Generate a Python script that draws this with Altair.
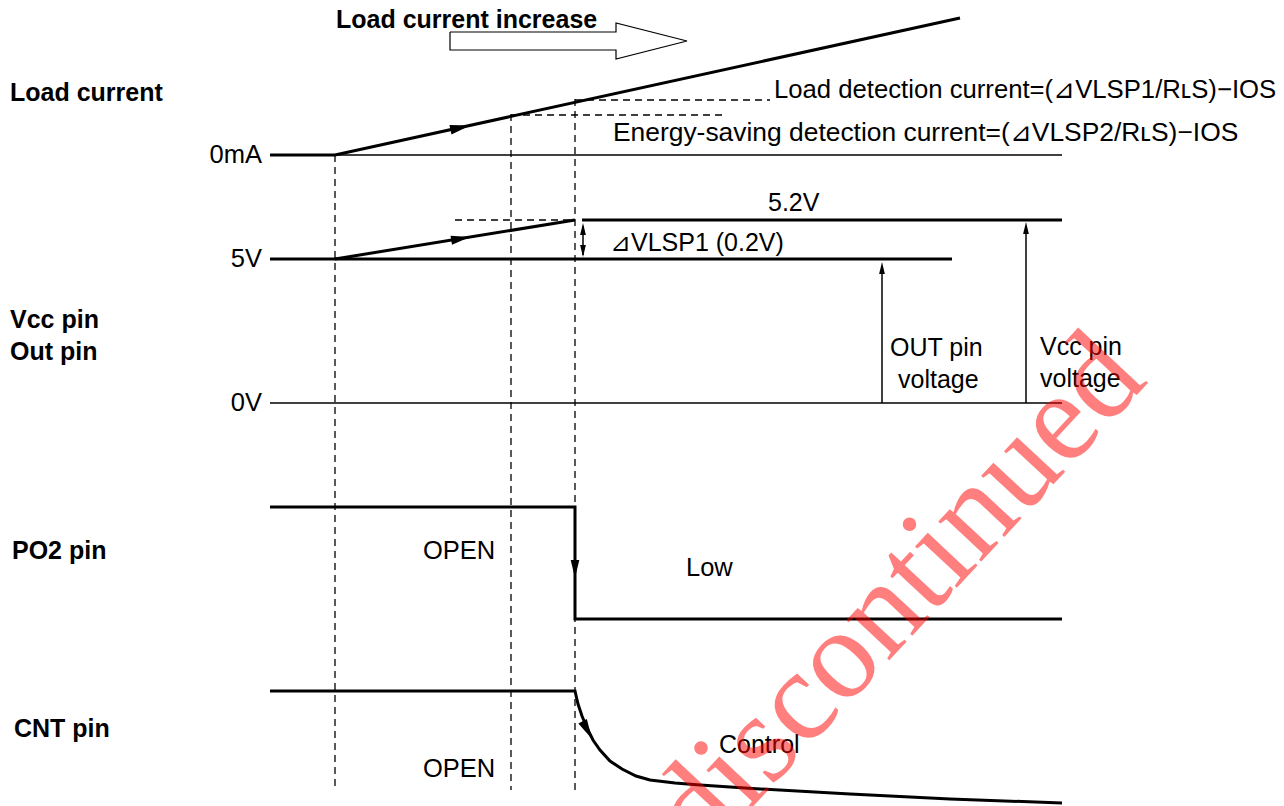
import altair as alt
import pandas as pd

# ---- diagram coordinate system (time axis -> x, signal level -> y) ----
X_DOMAIN = [8, 1276]
Y_DOMAIN = [8, 806]

# Thick waveform polylines: name -> (x list, y list)
wave_names = ["load", "vcc5", "vccramp", "vcc52", "po2", "cnt"]
wave_x = [
    [270, 335, 960],
    [270, 952],
    [335, 575],
    [582, 1062],
    [270, 575, 575, 1062],
    [270, 575, 578, 582, 587, 593, 600, 610, 622, 636, 650, 675, 700, 760, 850, 950, 1062],
]
wave_y = [
    [155, 155, 18],
    [259, 259],
    [259, 220],
    [220, 220],
    [507, 507, 619, 619],
    [691, 691, 704, 716, 728, 740, 750, 761, 769, 776, 780, 783, 785, 789, 794, 799, 803],
]

# Thin reference lines / arrow shafts
thin_names = ["zero_mA", "zero_V", "out_shaft", "vcc_shaft", "dvlsp_shaft"]
thin_x = [[270, 1062], [270, 1062], [882, 882], [1026, 1026], [583, 583]]
thin_y = [[155, 155], [403, 403], [403, 266], [403, 226], [226, 255]]

# Dashed guide lines
dash_names = ["t_ramp", "t_save", "t_det", "i_det", "i_save", "v52_guide"]
dash_x = [[335, 335], [511, 511], [575, 575], [575, 770], [511, 727], [455, 575]]
dash_y = [[155, 790], [114, 790], [99, 790], [100, 100], [115, 115], [220, 220]]

# Block arrow "Load current increase"
block_x = [450, 616, 616, 687, 616, 616, 450, 450]
block_y = [32, 32, 23, 41, 59, 50, 50, 32]

# Arrow heads: tip position, direction (deg clockwise), size
head_x = [470, 470, 575, 592, 583, 583, 882, 1026]
head_y = [125.4, 237.1, 578, 739, 223, 257, 262, 222]
head_angle = [347.6, 350.8, 90, 62, 270, 90, 270, 270]
head_size = [400, 360, 324, 400, 144, 144, 144, 144]

# Text labels
bold_text = ["Load current increase", "Load current", "Vcc pin", "Out pin", "PO2 pin", "CNT pin"]
bold_x = [336, 10, 10, 10, 12, 14]
bold_y = [20, 93, 320, 352, 551, 729]

reg_text = [
    "Load detection current=(⊿VLSP1/RʟS)−IOS",
    "Energy-saving detection current=(⊿VLSP2/RʟS)−IOS",
    "5.2V", "⊿VLSP1 (0.2V)", "OUT pin", "voltage", "Vcc pin", "voltage",
    "OPEN", "Low", "Control", "OPEN",
]
reg_x = [774, 613, 768, 610, 890, 898, 1040, 1040, 423, 686, 719, 423]
reg_y = [90, 133, 203, 243, 348, 380, 347, 379, 551, 568, 745, 769]
reg_size = [25.7, 26.4, 25, 25, 25, 25, 25, 25, 25.5, 25.5, 25, 25.5]

right_text = ["0mA", "5V", "0V"]
right_x = [262, 262, 262]
right_y = [155, 259, 403]

watermark_text = ["discontinued"]
watermark_x = [926]
watermark_y = [621]


def polylines(names, xs, ys):
    rows = []
    for n, xl, yl in zip(names, xs, ys):
        for i, (a, b) in enumerate(zip(xl, yl)):
            rows.append({"seg": n, "ord": i, "x": a, "y": b})
    return pd.DataFrame(rows)


xs = alt.Scale(domain=X_DOMAIN, nice=False, zero=False)
ys = alt.Scale(domain=Y_DOMAIN, nice=False, zero=False, reverse=True)
X = alt.X("x:Q", scale=xs, axis=None)
Y = alt.Y("y:Q", scale=ys, axis=None)

waves = alt.Chart(polylines(wave_names, wave_x, wave_y)).mark_line(
    color="black", strokeWidth=3, strokeJoin="miter", strokeCap="butt"
).encode(x=X, y=Y, detail="seg:N", order="ord:Q")

thin = alt.Chart(polylines(thin_names, thin_x, thin_y)).mark_line(
    color="black", strokeWidth=1.5
).encode(x=X, y=Y, detail="seg:N", order="ord:Q")

dashed = alt.Chart(polylines(dash_names, dash_x, dash_y)).mark_line(
    color="black", strokeWidth=1.3, strokeDash=[7, 5]
).encode(x=X, y=Y, detail="seg:N", order="ord:Q")

block = alt.Chart(polylines(["block"], [block_x], [block_y])).mark_line(
    color="black", strokeWidth=1.2, strokeJoin="miter"
).encode(x=X, y=Y, detail="seg:N", order="ord:Q")

heads_df = pd.DataFrame({"x": head_x, "y": head_y, "ang": head_angle, "sz": head_size})
heads = alt.Chart(heads_df).mark_point(
    shape="M0,0L-2,-0.48L-2,0.48Z", filled=True, color="black", opacity=1, strokeWidth=0
).encode(
    x=X, y=Y,
    angle=alt.Angle("ang:Q", scale=None),
    size=alt.Size("sz:Q", scale=None),
)

FONT = "Liberation Sans"
bold = alt.Chart(pd.DataFrame({"x": bold_x, "y": bold_y, "t": bold_text})).mark_text(
    font=FONT, fontSize=25, fontWeight="bold", align="left", baseline="middle", color="black"
).encode(x=X, y=Y, text="t:N")

reg = alt.Chart(pd.DataFrame({"x": reg_x, "y": reg_y, "t": reg_text, "fs": reg_size})).mark_text(
    font=FONT, align="left", baseline="middle", color="black"
).encode(x=X, y=Y, text="t:N", size=alt.Size("fs:Q", scale=None))

right = alt.Chart(pd.DataFrame({"x": right_x, "y": right_y, "t": right_text})).mark_text(
    font=FONT, fontSize=25.5, align="right", baseline="middle", color="black"
).encode(x=X, y=Y, text="t:N")

wm = alt.Chart(pd.DataFrame({"x": watermark_x, "y": watermark_y, "t": watermark_text})).mark_text(
    font="Liberation Serif", fontSize=128, align="center", baseline="alphabetic",
    color="#ff0000", opacity=0.5, angle=313
).encode(x=X, y=Y, text="t:N")

chart = alt.layer(dashed, thin, block, waves, heads, bold, reg, right, wm).properties(
    width=X_DOMAIN[1] - X_DOMAIN[0],
    height=Y_DOMAIN[1] - Y_DOMAIN[0],
    padding=0,
    autosize=alt.AutoSizeParams(type="none"),
    background="white",
).configure_view(strokeWidth=0)

chart.save("out.html", embed_options={"renderer": "svg", "actions": False})
